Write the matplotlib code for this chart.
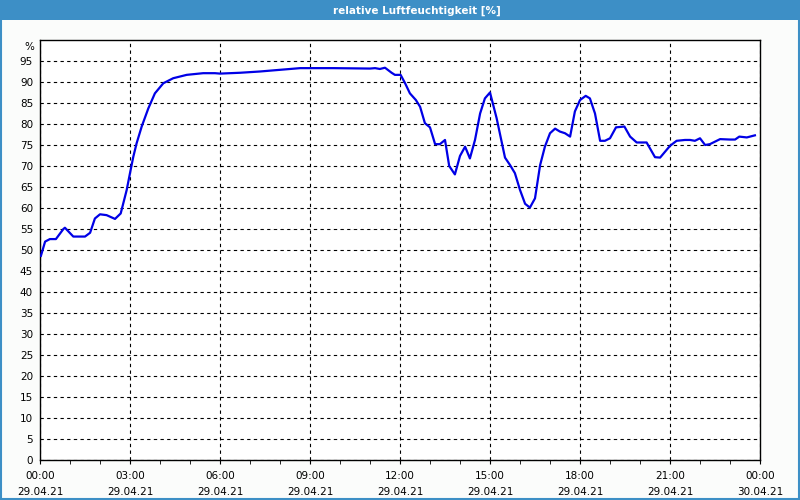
import numpy as np
import matplotlib
matplotlib.use('Agg')
import matplotlib.pyplot as plt
from matplotlib.patches import Rectangle
from matplotlib.transforms import blended_transform_factory

# hours since 29.04.21 00:00
hours = [0.03, 0.17, 0.33, 0.53, 0.78, 0.83, 1.11, 1.5, 1.67, 1.83, 2.0, 2.22, 2.5, 2.69,
         2.89, 3.0, 3.11, 3.22, 3.39, 3.61, 3.83, 4.11, 4.44, 4.89, 5.44, 5.83, 6.0, 6.67,
         7.33, 8.0, 8.67, 9.0, 9.78, 11.0, 11.17, 11.33, 11.5, 11.72, 11.83, 12.02, 12.17,
         12.33, 12.53, 12.67, 12.83, 13.0, 13.17, 13.33, 13.5, 13.64, 13.83, 14.0, 14.17,
         14.33, 14.5, 14.67, 14.83, 15.0, 15.22, 15.5, 15.67, 15.83, 16.0, 16.17, 16.33,
         16.5, 16.67, 16.83, 17.0, 17.17, 17.33, 17.5, 17.67, 17.83, 18.0, 18.19, 18.33,
         18.5, 18.67, 18.83, 19.0, 19.2, 19.48, 19.67, 19.89, 20.22, 20.5, 20.67, 21.0,
         21.22, 21.5, 21.67, 21.83, 22.0, 22.17, 22.33, 22.67, 23.0, 23.17, 23.31, 23.56,
         23.83]
humidity = [48.6, 52.0, 52.6, 52.6, 55.0, 55.3, 53.2, 53.2, 54.1, 57.5, 58.5, 58.3, 57.4, 58.7,
            64.3, 68.3, 72.2, 75.4, 79.4, 83.7, 87.3, 89.7, 90.9, 91.7, 92.1, 92.1, 92.0, 92.2,
            92.5, 92.9, 93.3, 93.3, 93.3, 93.2, 93.3, 93.1, 93.4, 92.2, 91.7, 91.7, 89.7,
            87.3, 85.7, 84.1, 80.2, 79.2, 75.2, 75.2, 76.2, 70.0, 68.0, 72.4, 74.6,
            71.8, 76.2, 82.5, 86.1, 87.5, 81.4, 72.0, 70.2, 68.3, 64.3, 61.0, 60.1,
            62.3, 70.2, 74.6, 77.8, 78.9, 78.2, 77.8, 77.0, 83.0, 85.7, 86.7, 86.1,
            82.5, 76.0, 76.0, 76.6, 79.2, 79.4, 77.0, 75.6, 75.6, 72.1, 72.0, 74.8,
            76.0, 76.2, 76.2, 76.0, 76.6, 75.0, 75.2, 76.4, 76.3, 76.3, 77.0, 76.8,
            77.3]

tick_hours = [0, 3, 6, 9, 12, 15, 18, 21, 24]
tick_labels = ['00:00\n29.04.21', '03:00\n29.04.21', '06:00\n29.04.21', '09:00\n29.04.21',
               '12:00\n29.04.21', '15:00\n29.04.21', '18:00\n29.04.21', '21:00\n29.04.21',
               '00:00\n30.04.21']
title = 'relative Luftfeuchtigkeit [%]'

fig = plt.figure(figsize=(8, 5), dpi=100, facecolor='#fbfcfb')

# title bar and outer border
fig.patches.append(Rectangle((0, 0.96), 1, 0.04, transform=fig.transFigure,
                             facecolor='#3d8fc6', edgecolor='none', zorder=0))
fig.patches.append(Rectangle((0.001, 0.002), 0.998, 0.996, transform=fig.transFigure,
                             facecolor='none', edgecolor='#3d8fc6', linewidth=1.5, zorder=5))
fig.text(0.521, 0.979, title, color='white', fontsize=7.5, fontweight='bold',
         ha='center', va='center')

ax = fig.add_axes([0.05, 0.08, 0.90, 0.84])
ax.set_facecolor('white')
ax.plot(hours, humidity, color='#0000e6', linewidth=1.6, zorder=3)

ax.set_xlim(0, 24)
ax.set_ylim(0, 100)
ax.set_xticks(tick_hours)
ax.set_xticklabels(tick_labels, fontsize=7.5, linespacing=1.7)
ax.set_xticks(np.arange(0, 25, 1), minor=True)
ax.set_yticks(np.arange(0, 100, 5))
ax.tick_params(axis='x', which='both', length=3, direction='out', pad=5)
ax.tick_params(axis='y', length=0, pad=5, labelsize=7.5)

ax.grid(True, which='major', color='black', linestyle=(0, (3, 3)), linewidth=0.8)
for s in ax.spines.values():
    s.set_color('black')
    s.set_linewidth(1)

tr = blended_transform_factory(ax.transAxes, ax.transData)
ax.text(-0.008, 99.5, '%', transform=tr, ha='right', va='top', fontsize=7.5)

fig.savefig('out.png', dpi=100, facecolor=fig.get_facecolor())
